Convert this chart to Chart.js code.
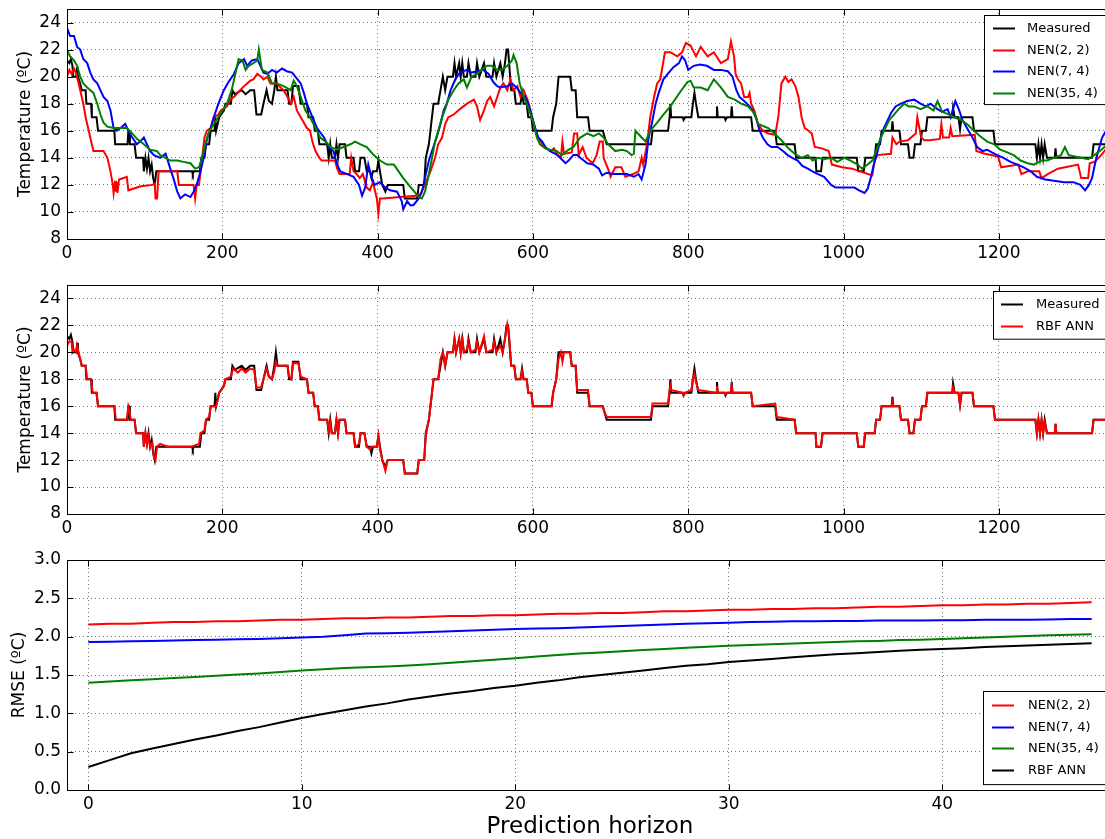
<!DOCTYPE html>
<html><head><meta charset="utf-8">
<script src="https://cdn.jsdelivr.net/npm/chart.js@4.4.0/dist/chart.umd.min.js"></script>
<style>
html,body{margin:0;padding:0;background:#fff;}
#wrap{position:relative;width:1105px;height:839px;overflow:hidden;background:#fff;}
#wrap canvas{position:absolute;left:0;}
</style></head><body>
<div id="wrap">
<canvas id="c1" style="top:0px;width:1125px;height:272px" width="1125" height="272"></canvas>
<canvas id="c2" style="top:276px;width:1125px;height:272px" width="1125" height="272"></canvas>
<canvas id="c3" style="top:548px;width:1125px;height:291px" width="1125" height="291"></canvas>
</div>
<script>
// ---------- tick labels ----------
const tempTicks = [8,10,12,14,16,18,20,22,24];
const timeTicks = [0,200,400,600,800,1000,1200];
const rmseTicks = [0.0,0.5,1.0,1.5,2.0,2.5,3.0];
const horizonTicks = [0,10,20,30,40];

// ---------- series: [sample, temperature] ----------
const measured = [[0,21.2],[3,21.0],[5,21.3],[7,20.8],[8,20.0],[12,20.0],[13,20.7],[14,20.0],[17,19.5],[19,19.0],[24,19.0],[25,18.0],[31,18.0],[32,17.0],[38,17.0],[40,16.0],[61,16.0],[62,15.0],[78,15.0],[79,16.0],[80,16.0],[81,15.0],[87,15.0],[89,14.0],[98,14.0],[99,13.0],[101,14.0],[103,13.2],[105,14.0],[107,13.0],[109,13.5],[111,12.5],[113,12.0],[115,13.0],[161,13.0],[162,12.8],[163,13.0],[171,13.0],[173,14.0],[177,14.0],[179,15.0],[183,15.0],[185,16.0],[190,16.0],[191,17.0],[192,16.0],[196,17.0],[202,17.5],[204,18.0],[211,18.0],[213,19.0],[216,18.7],[225,19.0],[230,18.7],[236,19.0],[241,19.0],[244,17.2],[250,17.2],[253,18.0],[257,19.0],[260,18.2],[264,18.0],[267,19.0],[269,20.0],[271,19.0],[284,19.0],[286,18.0],[289,18.0],[291,19.3],[298,19.3],[301,18.0],[309,18.0],[311,17.0],[317,17.0],[319,16.0],[323,16.0],[325,15.0],[335,15.0],[337,14.0],[339,15.0],[341,14.0],[345,14.0],[347,15.0],[349,14.0],[351,15.0],[358,15.0],[360,14.0],[369,14.0],[371,13.0],[376,13.0],[378,14.0],[383,14.0],[386,13.0],[390,13.0],[392,12.5],[394,13.0],[399,13.0],[401,13.8],[403,13.0],[406,12.0],[410,11.5],[413,12.0],[433,12.0],[435,11.0],[451,11.0],[453,12.0],[460,12.0],[462,14.0],[466,15.0],[470,17.0],[472,18.0],[478,18.0],[481,19.0],[484,20.0],[487,19.0],[490,20.0],[497,20.0],[499,21.0],[501,20.0],[505,21.0],[507,20.0],[509,21.0],[511,20.0],[515,20.0],[517,21.0],[520,20.0],[526,20.0],[528,21.0],[531,20.0],[537,21.0],[540,20.0],[548,20.0],[550,21.0],[553,20.0],[558,21.0],[561,20.0],[564,21.0],[566,22.0],[568,22.0],[572,19.0],[576,19.0],[578,18.0],[584,18.0],[586,18.8],[588,18.0],[592,18.0],[594,17.0],[598,17.0],[600,16.0],[624,16.0],[626,17.0],[630,18.0],[633,20.0],[648,20.0],[650,19.0],[655,19.0],[657,17.0],[671,17.0],[673,16.0],[690,16.0],[692,15.6],[695,15.0],[752,15.0],[754,16.0],[774,16.0],[776,17.0],[777,18.0],[778,17.0],[793,17.0],[794,16.8],[796,17.0],[804,17.0],[806,18.0],[808,18.8],[810,18.0],[813,17.0],[836,17.0],[837,17.8],[838,17.0],[847,17.0],[848,16.8],[850,17.0],[855,17.0],[856,17.8],[857,17.0],[881,17.0],[883,16.0],[912,16.0],[914,15.0],[937,15.0],[939,14.0],[964,14.0],[965,13.0],[971,13.0],[973,14.0],[1017,14.0],[1019,13.0],[1026,13.0],[1027,13.5],[1028,14.0],[1040,14.0],[1042,15.0],[1047,15.0],[1049,16.0],[1062,16.0],[1063,16.7],[1064,16.0],[1072,16.0],[1074,15.0],[1083,15.0],[1085,14.0],[1090,14.0],[1092,15.0],[1099,15.0],[1101,16.0],[1106,16.0],[1108,17.0],[1140,17.0],[1141,17.7],[1143,17.0],[1148,17.0],[1150,16.1],[1152,17.0],[1166,17.0],[1168,16.0],[1193,16.0],[1195,15.0],[1247,15.0],[1249,14.0],[1251,15.0],[1253,14.0],[1255,15.0],[1257,14.0],[1259,15.0],[1262,14.0],[1272,14.0],[1273,14.7],[1274,14.0],[1320,14.0],[1322,15.0],[1340,15.0]];

const nen22 = [[0,20.0],[3,20.5],[6,20.2],[9,20.6],[12,20.2],[15,19.5],[17,19.0],[21,18.0],[24,17.0],[28,16.0],[32,15.0],[34,14.5],[47,14.5],[52,14.0],[56,13.0],[59,12.0],[60,11.4],[62,12.3],[63,11.5],[64,12.2],[65,11.4],[67,12.4],[77,12.6],[79,11.6],[95,11.9],[110,12.0],[113,12.1],[114,11.0],[116,11.0],[118,13.0],[142,13.0],[144,12.0],[163,12.0],[165,11.0],[167,12.0],[170,12.0],[174,14.0],[177,15.5],[180,16.0],[185,16.2],[189,17.0],[195,17.2],[198,17.5],[206,17.8],[210,18.3],[215,18.5],[223,19.0],[228,19.3],[232,19.5],[236,19.7],[240,19.8],[245,20.2],[250,20.0],[253,19.8],[258,20.0],[262,19.5],[270,19.5],[275,19.2],[279,19.0],[284,18.5],[288,18.0],[292,18.5],[296,17.5],[303,16.8],[309,16.2],[313,16.0],[316,15.2],[320,14.5],[325,14.0],[328,13.8],[345,13.8],[348,13.2],[351,12.8],[364,12.8],[366,14.0],[369,13.0],[373,12.8],[377,12.5],[381,12.8],[386,11.8],[390,11.6],[394,12.2],[399,11.0],[401,9.9],[403,11.0],[407,11.0],[429,11.1],[450,11.2],[455,11.3],[461,12.0],[468,13.0],[474,14.0],[478,15.0],[483,15.5],[487,16.5],[491,17.0],[498,17.2],[506,17.6],[515,18.0],[524,18.3],[528,17.8],[532,16.8],[537,17.5],[541,18.2],[545,18.5],[550,17.8],[554,18.5],[558,19.2],[562,19.5],[567,19.0],[571,19.8],[575,19.0],[580,19.3],[584,18.5],[588,19.0],[593,18.3],[597,17.5],[601,16.5],[606,15.5],[610,15.2],[614,14.8],[623,14.5],[627,14.7],[632,14.2],[636,14.0],[638,15.2],[640,14.3],[650,14.4],[653,15.8],[657,15.8],[659,14.2],[664,14.8],[669,14.0],[677,13.6],[682,14.2],[686,15.2],[690,15.2],[691,14.0],[698,13.0],[700,12.6],[706,13.3],[714,13.3],[719,12.6],[729,12.8],[736,13.0],[740,14.0],[742,13.5],[747,15.0],[751,17.0],[756,18.5],[760,19.5],[764,19.8],[770,21.8],[777,21.8],[786,21.5],[792,21.8],[797,22.5],[803,22.3],[810,21.5],[816,22.2],[825,21.5],[833,21.8],[842,21.0],[851,21.3],[855,22.6],[859,21.5],[861,20.2],[864,19.8],[868,19.5],[872,18.5],[877,18.5],[879,18.8],[881,18.0],[885,17.5],[890,16.5],[896,16.0],[903,15.8],[912,15.7],[916,17.0],[920,19.5],[925,20.0],[929,19.6],[933,19.8],[938,19.3],[942,18.5],[946,17.0],[950,16.2],[955,16.0],[959,15.8],[963,14.8],[972,14.7],[981,14.5],[983,14.0],[985,13.5],[998,13.3],[1011,13.2],[1037,12.7],[1040,13.8],[1044,14.2],[1061,14.3],[1063,15.5],[1068,15.0],[1072,15.2],[1083,15.3],[1087,15.5],[1093,15.8],[1095,17.0],[1100,15.5],[1104,15.3],[1111,15.3],[1124,15.4],[1126,16.5],[1128,15.5],[1136,15.5],[1138,16.2],[1140,15.6],[1169,15.7],[1171,14.5],[1182,14.3],[1199,14.1],[1203,13.3],[1225,13.5],[1229,12.8],[1237,13.0],[1252,13.0],[1255,12.5],[1263,12.8],[1276,13.2],[1302,13.5],[1306,12.5],[1315,12.5],[1317,13.6],[1323,13.7],[1332,14.2],[1340,14.8]];

const nen74 = [[0,23.6],[4,23.0],[9,23.0],[13,22.2],[17,22.0],[21,21.3],[26,21.0],[30,20.3],[34,19.8],[39,19.5],[43,19.0],[47,18.5],[52,18.2],[56,17.5],[60,16.2],[64,16.0],[69,16.2],[75,16.5],[79,16.0],[84,15.5],[90,15.0],[94,15.2],[99,15.5],[103,15.0],[107,14.5],[112,14.2],[120,14.0],[127,14.3],[133,13.2],[137,12.5],[142,11.5],[146,11.0],[152,11.3],[159,11.1],[163,11.5],[167,12.0],[172,13.0],[176,14.0],[180,15.3],[185,16.2],[189,17.0],[195,18.0],[202,19.0],[208,19.6],[215,20.2],[221,21.0],[228,21.3],[232,20.8],[238,21.2],[245,21.3],[249,20.8],[253,20.3],[258,20.2],[264,20.5],[270,20.3],[277,20.6],[283,20.4],[290,20.3],[294,20.0],[301,19.5],[305,18.8],[309,18.0],[316,17.0],[322,16.2],[331,15.5],[337,14.8],[343,14.5],[348,13.5],[352,13.0],[361,12.8],[369,12.6],[376,12.0],[380,11.2],[384,11.8],[388,13.5],[392,12.6],[396,12.0],[403,12.2],[410,11.8],[416,11.6],[425,11.5],[431,10.8],[433,10.2],[438,10.8],[442,10.5],[446,10.5],[453,11.0],[457,11.5],[461,12.5],[466,13.8],[470,14.5],[476,15.5],[481,16.5],[485,17.5],[489,18.0],[494,19.0],[500,19.8],[506,20.3],[515,20.5],[521,20.3],[528,20.4],[536,20.5],[543,20.2],[549,19.6],[554,19.3],[558,19.2],[567,19.3],[573,19.5],[579,19.2],[584,18.8],[590,18.5],[594,18.0],[599,17.0],[603,16.2],[607,15.5],[612,15.2],[616,14.8],[622,14.5],[629,14.3],[635,14.0],[642,13.6],[646,13.8],[652,14.2],[657,14.2],[661,14.0],[670,13.6],[678,13.5],[685,13.2],[689,12.7],[695,12.9],[704,12.8],[712,12.8],[721,12.8],[730,12.6],[736,12.8],[740,12.4],[745,13.5],[749,15.5],[753,16.5],[758,18.0],[762,18.8],[768,19.8],[775,20.3],[781,20.7],[788,21.0],[792,21.5],[796,21.2],[800,20.5],[807,20.8],[815,20.9],[824,20.8],[833,20.5],[842,20.5],[851,20.4],[857,20.0],[862,19.0],[866,18.5],[872,18.2],[879,17.8],[883,17.5],[887,17.0],[892,16.0],[896,15.5],[902,15.0],[907,14.8],[915,14.8],[922,14.5],[928,14.2],[934,14.0],[941,13.8],[947,13.4],[954,13.2],[960,13.0],[967,12.8],[975,12.6],[984,12.0],[990,11.8],[1005,11.8],[1014,11.8],[1020,11.6],[1027,11.4],[1031,11.7],[1035,12.5],[1039,13.5],[1044,14.5],[1048,15.5],[1052,16.2],[1057,16.8],[1061,17.3],[1067,17.8],[1074,18.0],[1082,18.2],[1091,18.3],[1099,18.0],[1106,17.8],[1112,18.0],[1121,17.6],[1127,17.4],[1134,17.6],[1138,17.0],[1144,18.2],[1149,17.5],[1153,16.8],[1159,16.2],[1166,15.5],[1172,14.8],[1179,14.5],[1185,14.6],[1191,14.4],[1198,14.2],[1206,14.0],[1215,13.7],[1224,13.5],[1232,13.3],[1241,13.0],[1249,12.6],[1260,12.4],[1271,12.3],[1284,12.2],[1296,12.2],[1305,12.0],[1311,11.6],[1316,12.0],[1320,12.5],[1324,13.6],[1328,14.5],[1333,15.5],[1340,16.2]];

const nen354 = [[0,22.0],[4,21.5],[9,21.2],[13,20.8],[17,20.0],[21,19.5],[26,19.2],[30,19.0],[34,18.8],[39,18.0],[43,17.2],[47,16.6],[52,16.3],[60,16.2],[69,16.2],[77,16.2],[84,15.8],[90,15.4],[99,15.0],[107,14.6],[116,14.5],[120,14.2],[127,14.0],[133,13.8],[142,13.8],[150,13.7],[159,13.6],[165,13.2],[170,13.3],[174,14.0],[178,15.0],[182,15.8],[189,16.5],[198,17.3],[206,18.0],[212,19.0],[216,20.0],[221,21.3],[226,21.2],[230,20.5],[234,20.8],[240,21.0],[245,21.2],[247,22.0],[251,20.5],[258,20.3],[264,19.5],[270,19.5],[279,19.3],[288,19.0],[292,19.7],[296,19.3],[301,18.5],[307,17.5],[313,17.0],[320,16.2],[326,15.5],[333,15.2],[339,14.8],[348,14.6],[356,14.8],[365,15.0],[371,15.2],[378,15.0],[386,14.8],[395,14.2],[403,13.8],[412,13.5],[421,13.5],[427,13.0],[433,12.5],[440,12.0],[446,11.6],[453,11.1],[457,11.0],[461,11.5],[466,12.8],[470,14.0],[474,15.2],[479,16.2],[483,17.0],[487,17.6],[491,18.3],[498,19.0],[504,19.5],[511,19.8],[515,19.2],[521,20.0],[528,20.2],[534,20.5],[541,20.8],[547,20.8],[554,20.5],[560,20.5],[567,20.8],[573,21.2],[575,21.6],[579,21.0],[583,19.5],[588,18.5],[592,18.0],[597,17.2],[601,16.5],[605,15.5],[609,15.0],[616,14.7],[622,14.6],[631,14.5],[637,14.2],[646,14.6],[652,14.8],[661,15.5],[670,15.8],[678,15.6],[685,15.8],[691,15.5],[697,15.0],[706,14.5],[715,14.6],[721,14.5],[727,14.2],[730,14.3],[732,16.0],[740,15.5],[745,15.2],[751,16.0],[760,16.6],[768,17.2],[777,17.8],[790,18.9],[799,19.6],[803,19.7],[807,19.2],[816,19.2],[825,19.0],[833,19.8],[842,19.2],[851,18.5],[860,18.3],[868,18.0],[877,17.8],[885,17.3],[890,16.5],[903,16.2],[911,15.8],[920,15.3],[929,14.7],[937,14.3],[946,14.0],[954,14.2],[960,13.8],[967,14.0],[975,13.9],[984,14.0],[992,13.7],[1001,14.0],[1009,13.8],[1018,13.5],[1024,13.2],[1031,13.5],[1037,13.8],[1042,14.5],[1046,15.2],[1052,16.0],[1059,16.8],[1065,17.2],[1071,17.6],[1078,18.0],[1084,17.8],[1091,17.8],[1099,17.6],[1108,17.8],[1116,17.5],[1121,18.2],[1127,17.4],[1136,17.2],[1142,17.0],[1151,16.8],[1159,16.5],[1168,16.0],[1176,15.6],[1185,15.2],[1194,15.0],[1202,14.6],[1211,14.4],[1219,14.2],[1228,13.8],[1237,13.6],[1245,13.5],[1255,13.8],[1262,13.8],[1271,14.0],[1280,14.2],[1285,14.8],[1290,14.2],[1298,14.1],[1315,13.9],[1323,14.2],[1332,14.6],[1340,15.0]];

const rbfAnn = [[0,20.5],[3,20.8],[6,20.8],[7,20.0],[9,20.2],[12,20.0],[13,20.5],[15,20.0],[17,19.5],[19,19.0],[24,19.0],[26,18.0],[31,18.0],[33,17.0],[38,17.0],[40,16.0],[61,16.0],[63,15.0],[77,15.0],[79,16.0],[80,15.8],[82,15.0],[87,15.0],[89,14.0],[98,14.0],[99,13.0],[101,14.0],[103,13.2],[105,13.8],[107,13.0],[110,13.3],[112,12.2],[114,12.0],[116,13.0],[120,13.2],[130,13.0],[160,13.0],[170,13.2],[172,14.0],[177,14.2],[179,15.0],[183,15.2],[185,16.0],[192,16.0],[194,16.5],[196,17.0],[202,17.5],[204,18.0],[211,18.2],[214,18.8],[220,18.5],[225,18.8],[230,18.5],[236,18.8],[241,18.7],[244,17.4],[250,17.4],[253,18.0],[257,18.8],[260,18.2],[264,18.0],[267,18.6],[269,19.3],[271,19.0],[284,19.0],[286,18.2],[289,18.0],[291,19.2],[298,19.2],[301,18.2],[309,18.0],[311,17.0],[317,17.0],[319,16.0],[323,16.0],[325,15.0],[335,15.0],[337,14.2],[339,14.8],[341,14.0],[345,14.0],[347,15.0],[349,14.0],[351,15.0],[358,15.0],[360,14.0],[369,14.0],[371,13.0],[376,13.2],[378,14.0],[383,14.0],[386,13.0],[390,12.8],[392,13.0],[399,13.0],[401,13.8],[403,12.8],[406,12.0],[410,11.2],[413,12.0],[433,12.0],[435,11.0],[451,11.0],[453,12.0],[460,12.0],[462,13.8],[466,15.0],[470,17.0],[472,18.0],[478,18.0],[481,19.5],[484,20.0],[487,19.0],[490,20.0],[497,20.0],[499,21.0],[501,20.0],[505,21.0],[507,20.0],[509,21.2],[511,20.0],[515,20.2],[517,20.8],[520,20.0],[526,20.2],[528,20.8],[531,20.0],[537,21.2],[540,20.0],[548,20.2],[550,20.8],[553,20.0],[558,20.5],[561,20.0],[564,21.0],[567,22.1],[569,21.5],[572,19.0],[576,19.0],[578,18.0],[584,18.0],[586,18.6],[588,18.0],[592,18.0],[594,17.0],[598,17.0],[600,16.0],[624,16.0],[626,17.0],[630,18.0],[633,19.5],[636,20.0],[638,19.3],[640,20.0],[648,20.0],[650,19.0],[655,19.0],[657,17.2],[671,17.2],[673,16.0],[690,16.0],[692,15.6],[695,15.2],[752,15.2],[754,16.2],[774,16.2],[776,17.2],[777,17.5],[778,17.2],[793,17.0],[794,16.8],[796,17.0],[804,17.2],[806,18.0],[808,18.4],[810,17.8],[813,17.2],[836,17.0],[837,17.5],[838,17.0],[847,17.0],[848,16.9],[850,17.0],[855,17.0],[856,17.5],[857,17.0],[881,17.0],[883,16.0],[912,16.2],[914,15.2],[937,15.0],[939,14.0],[964,14.0],[965,13.0],[971,13.0],[973,14.0],[1017,14.0],[1019,13.0],[1026,13.0],[1027,13.8],[1028,14.0],[1040,14.0],[1042,15.0],[1047,15.0],[1049,16.0],[1062,16.0],[1063,16.3],[1064,16.0],[1072,16.0],[1074,15.0],[1083,15.0],[1085,14.0],[1090,14.0],[1092,15.0],[1099,15.0],[1101,16.0],[1106,16.0],[1108,17.0],[1140,17.0],[1141,17.4],[1143,17.0],[1148,17.0],[1150,16.1],[1152,17.0],[1166,17.0],[1168,16.0],[1193,16.0],[1195,15.0],[1247,15.0],[1249,14.0],[1251,15.0],[1253,14.0],[1255,15.0],[1257,14.0],[1259,14.8],[1262,14.0],[1272,14.0],[1273,14.7],[1274,14.0],[1320,14.0],[1322,15.0],[1340,15.0]];

// ---------- RMSE vs prediction horizon ----------
const horizon = [0,1,2,3,4,5,6,7,8,9,10,11,12,13,14,15,16,17,18,19,20,21,22,23,24,25,26,27,28,29,30,31,32,33,34,35,36,37,38,39,40,41,42,43,44,45,46,47];
const rmseNen22 = [2.16,2.17,2.17,2.18,2.19,2.19,2.20,2.20,2.21,2.22,2.22,2.23,2.24,2.24,2.25,2.25,2.26,2.27,2.27,2.28,2.28,2.29,2.30,2.30,2.31,2.31,2.32,2.33,2.33,2.34,2.35,2.35,2.36,2.36,2.37,2.37,2.38,2.39,2.39,2.40,2.41,2.41,2.42,2.42,2.43,2.43,2.44,2.45];
const rmseNen74 = [1.93,1.935,1.94,1.945,1.95,1.955,1.96,1.965,1.97,1.98,1.99,2.00,2.02,2.04,2.045,2.05,2.06,2.07,2.08,2.09,2.10,2.105,2.11,2.12,2.13,2.14,2.15,2.16,2.17,2.175,2.18,2.19,2.195,2.20,2.20,2.205,2.205,2.21,2.21,2.21,2.215,2.215,2.22,2.22,2.22,2.225,2.23,2.23];
const rmseNen354 = [1.40,1.415,1.43,1.445,1.46,1.475,1.49,1.505,1.52,1.54,1.56,1.575,1.59,1.60,1.61,1.625,1.64,1.66,1.68,1.70,1.72,1.74,1.76,1.78,1.795,1.81,1.825,1.84,1.855,1.87,1.88,1.89,1.90,1.91,1.92,1.93,1.94,1.945,1.955,1.96,1.97,1.98,1.99,2.00,2.01,2.02,2.025,2.03];
const rmseRbf = [0.30,0.39,0.48,0.54,0.60,0.66,0.71,0.77,0.82,0.88,0.94,0.99,1.04,1.09,1.13,1.18,1.22,1.26,1.29,1.33,1.36,1.40,1.43,1.47,1.50,1.53,1.56,1.59,1.62,1.64,1.67,1.69,1.71,1.73,1.75,1.77,1.785,1.80,1.815,1.83,1.84,1.85,1.865,1.875,1.885,1.895,1.905,1.915];

// ---------- helpers ----------
const FAMILY = '"DejaVu Sans", "Liberation Sans", sans-serif';
const toXY = arr => arr.map(p => ({x: p[0], y: p[1]}));
const zip = (xs, ys) => xs.map((x, i) => ({x: x, y: ys[i]}));

const framePlugin = {
  id: 'frame',
  afterDatasetsDraw(chart) {
    const {ctx, chartArea: a, scales} = chart;
    ctx.save();
    ctx.strokeStyle = '#000'; ctx.lineWidth = 1;
    const L = Math.round(a.left) + 0.5, T = Math.round(a.top) + 0.5;
    const R = Math.round(a.right) + 0.5, B = Math.round(a.bottom) + 0.5;
    ctx.strokeRect(L, T, R - L, B - T);
    const len = 6;
    ctx.beginPath();
    scales.x.ticks.forEach(t => {
      const px = Math.round(scales.x.getPixelForValue(t.value)) + 0.5;
      ctx.moveTo(px, B); ctx.lineTo(px, B - len);
      ctx.moveTo(px, T); ctx.lineTo(px, T + len);
    });
    scales.y.ticks.forEach(t => {
      const py = Math.round(scales.y.getPixelForValue(t.value)) + 0.5;
      ctx.moveTo(L, py); ctx.lineTo(L + len, py);
      ctx.moveTo(R, py); ctx.lineTo(R - len, py);
    });
    ctx.stroke();
    ctx.restore();
  }
};

const boxLegend = {
  id: 'boxLegend',
  afterDraw(chart, args, o) {
    const {ctx} = chart;
    const ds = chart.data.datasets;
    const h = o.first + (ds.length - 1) * o.rowH + o.last;
    ctx.save();
    ctx.fillStyle = '#fff';
    ctx.fillRect(o.left, o.top, chart.width - o.left + 5, h);
    ctx.strokeStyle = '#000'; ctx.lineWidth = 1;
    ctx.strokeRect(o.left + 0.5, o.top + 0.5, chart.width, h);
    ctx.font = o.size + 'px ' + FAMILY;
    ctx.textBaseline = 'middle'; ctx.textAlign = 'left';
    ds.forEach((d, i) => {
      const y = Math.round(o.top + o.first + i * o.rowH) + 0.5;
      ctx.strokeStyle = d.borderColor; ctx.lineWidth = 2;
      ctx.beginPath(); ctx.moveTo(o.left + o.lx0, y); ctx.lineTo(o.left + o.lx1, y); ctx.stroke();
      ctx.fillStyle = '#000';
      ctx.fillText(d.label, o.left + o.tx, y);
    });
    ctx.restore();
  }
};

function axisX(min, max, ticksArr, height, title) {
  const ax = {
    type: 'linear', min: min, max: max,
    afterBuildTicks: s => { s.ticks = ticksArr.map(v => ({value: v})); },
    afterFit: s => { s.height = height; s.paddingLeft = 0; s.paddingRight = 0; },
    ticks: {color: '#000', font: {family: FAMILY, size: 17}, padding: 4, maxRotation: 0, autoSkip: false,
            callback: v => String(v)},
    grid: {color: 'rgba(0,0,0,0.55)', lineWidth: 1, drawTicks: false},
    border: {display: false, dash: [1, 3]}
  };
  if (title) ax.title = {display: true, text: title, color: '#000', font: {family: FAMILY, size: 23, lineHeight: 1}, padding: {top: 0, bottom: 0}};
  return ax;
}
function axisY(min, max, ticksArr, title, titlePad, fmt) {
  return {
    type: 'linear', min: min, max: max,
    afterBuildTicks: s => { s.ticks = ticksArr.map(v => ({value: v})); },
    afterFit: s => { s.width = 67; s.paddingTop = 0; s.paddingBottom = 0; },
    ticks: {color: '#000', font: {family: FAMILY, size: 17}, padding: 6, callback: fmt || (v => String(v))},
    grid: {color: 'rgba(0,0,0,0.55)', lineWidth: 1, drawTicks: false},
    border: {display: false, dash: [1, 3]},
    title: {display: true, text: title, color: '#000', font: {family: FAMILY, size: 17}, padding: {top: titlePad, bottom: 0}}
  };
}
function line(label, data, color, order) {
  return {label: label, data: data, borderColor: color, backgroundColor: color, borderWidth: 2,
          pointRadius: 0, pointHoverRadius: 0, tension: 0, fill: false, order: order};
}
function baseOptions(padTop, scales, legendOpts) {
  return {
    responsive: false, animation: false, devicePixelRatio: 1, events: [],
    layout: {padding: {top: padTop, left: 0, right: 12, bottom: 0}},
    scales: scales,
    plugins: {legend: {display: false}, tooltip: {enabled: false}, boxLegend: legendOpts}
  };
}

// ---------- chart 1: NEN predictions ----------
new Chart(document.getElementById('c1'), {
  type: 'line',
  data: {datasets: [
    line('Measured', toXY(measured), '#000000', 4),
    line('NEN(2, 2)', toXY(nen22), '#ff0000', 3),
    line('NEN(7, 4)', toXY(nen74), '#0000ff', 2),
    line('NEN(35, 4)', toXY(nen354), '#008000', 1)
  ]},
  options: baseOptions(9, {
    x: axisX(0, 1347, timeTicks, 33, null),
    y: axisY(8, 25, tempTicks, 'Temperature (ºC)', 15)
  }, {left: 984, top: 15, first: 13, rowH: 21.7, last: 11, lx0: 9, lx1: 31, tx: 43, size: 13}),
  plugins: [framePlugin, boxLegend]
});

// ---------- chart 2: RBF ANN ----------
new Chart(document.getElementById('c2'), {
  type: 'line',
  data: {datasets: [
    line('Measured', toXY(measured), '#000000', 2),
    line('RBF ANN', toXY(rbfAnn), '#ff0000', 1)
  ]},
  options: baseOptions(9, {
    x: axisX(0, 1347, timeTicks, 34, null),
    y: axisY(8, 25, tempTicks, 'Temperature (ºC)', 15)
  }, {left: 993, top: 15, first: 13, rowH: 21.7, last: 13, lx0: 8, lx1: 30, tx: 43, size: 13}),
  plugins: [framePlugin, boxLegend]
});

// ---------- chart 3: RMSE ----------
new Chart(document.getElementById('c3'), {
  type: 'line',
  data: {datasets: [
    line('NEN(2, 2)', zip(horizon, rmseNen22), '#ff0000', 4),
    line('NEN(7, 4)', zip(horizon, rmseNen74), '#0000ff', 3),
    line('NEN(35, 4)', zip(horizon, rmseNen354), '#008000', 2),
    line('RBF ANN', zip(horizon, rmseRbf), '#000000', 1)
  ]},
  options: baseOptions(12, {
    x: axisX(-1, 48, horizonTicks, 49, 'Prediction horizon'),
    y: axisY(0, 3, rmseTicks, 'RMSE (ºC)', 9, v => Number(v).toFixed(1))
  }, {left: 983, top: 143, first: 14, rowH: 21.7, last: 14, lx0: 9, lx1: 31, tx: 45, size: 13}),
  plugins: [framePlugin, boxLegend]
});
</script>
</body></html>
